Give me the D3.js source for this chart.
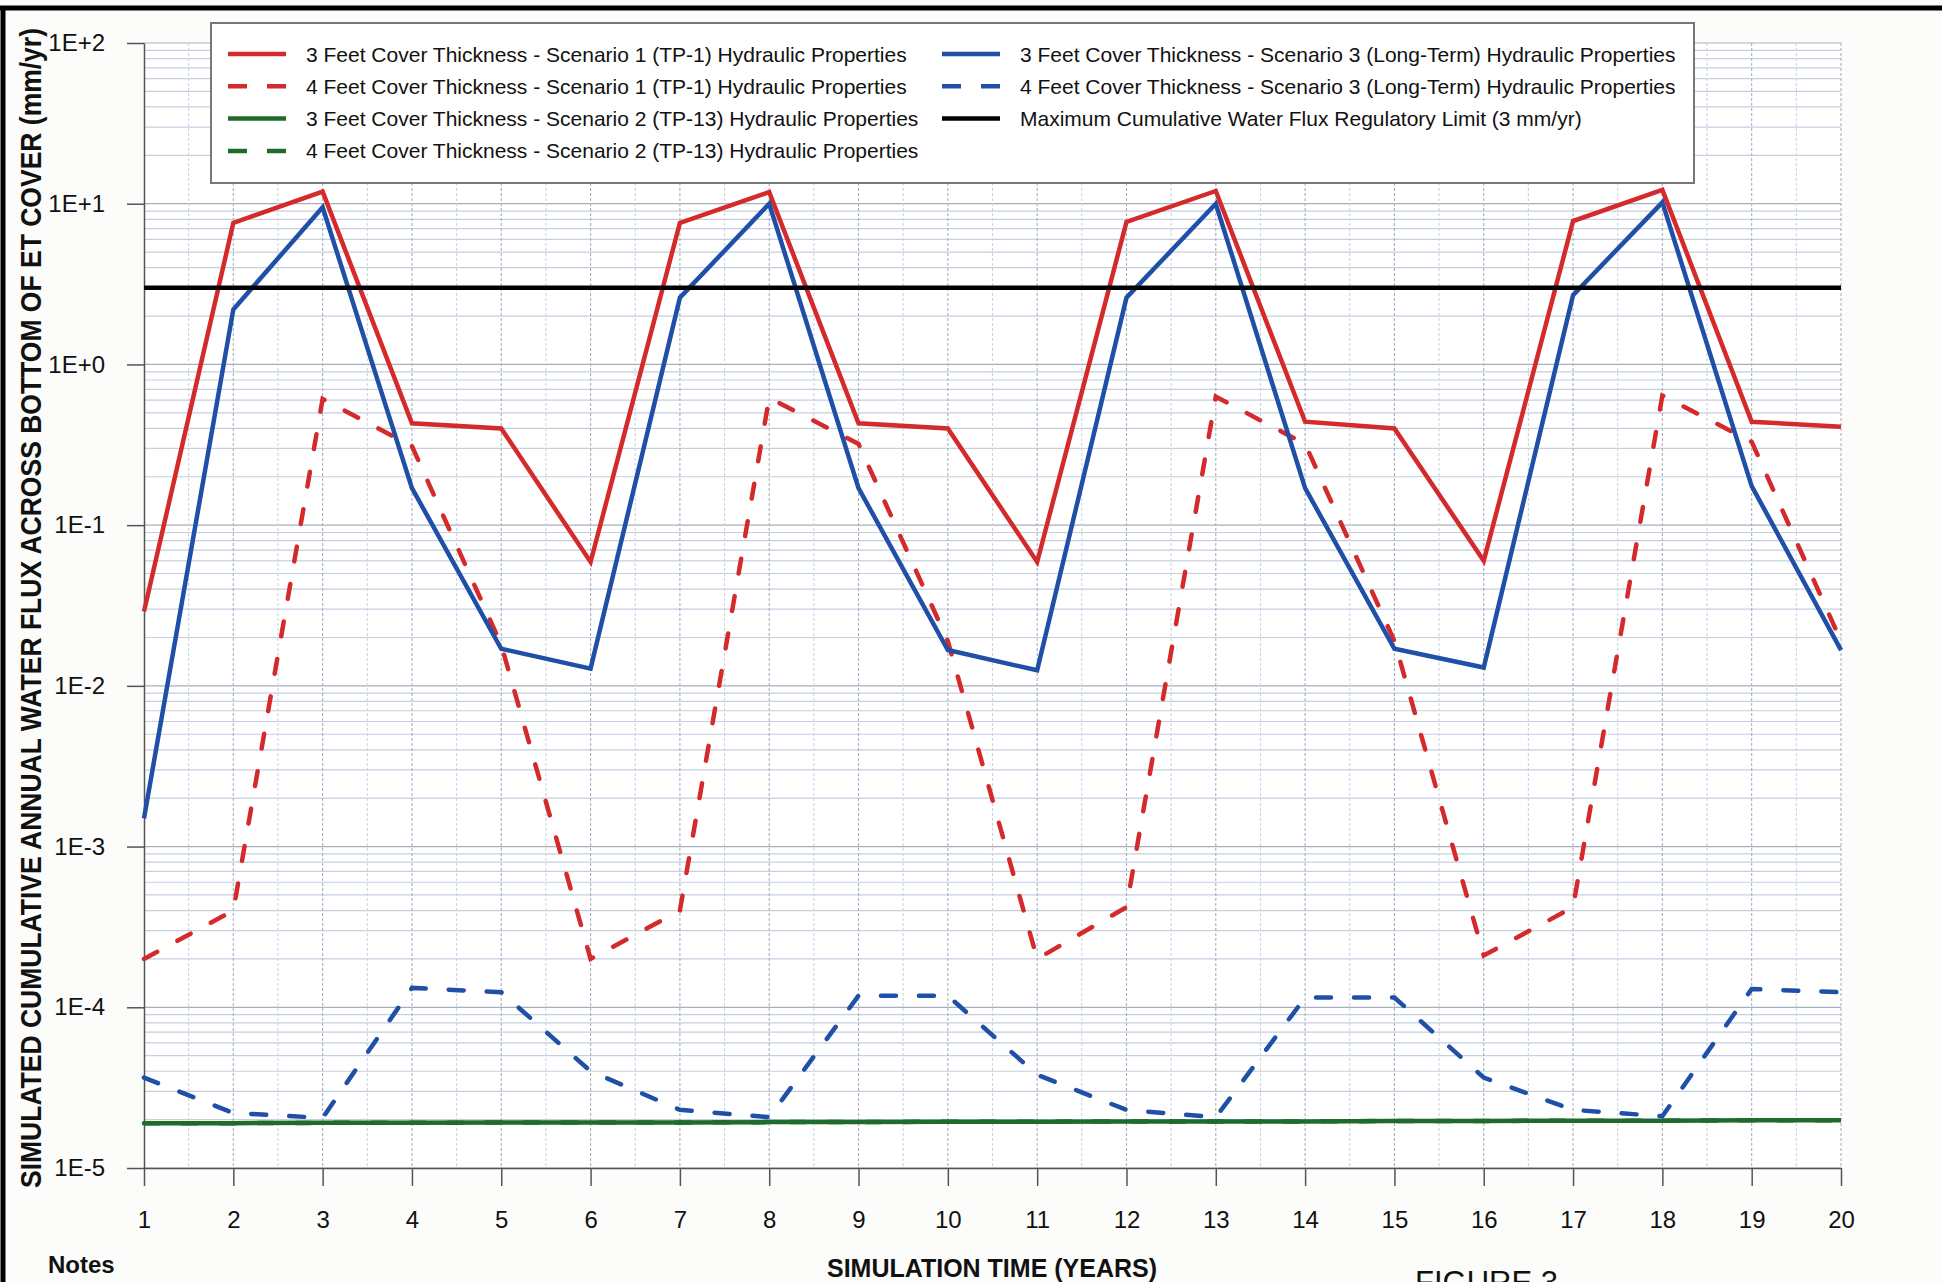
<!DOCTYPE html>
<html lang="en">

<head>
    <meta charset="utf-8">
    <title>Figure 3 - Cumulative Annual Water Flux</title>
    <style media="screen" type="text/css">
        body {
            margin: 0;
            background-color: #fcfcfa;
        }
        svg text {
            font-family: "Liberation Sans Narrow", "Liberation Sans", Arial, sans-serif;
            fill: #111;
        }
        .bold {
            font-family: "Liberation Sans", Arial, sans-serif;
            font-weight: bold;
        }
    </style>
</head>

<body>
    <svg id="chart"></svg>
    <script src="https://cdn.jsdelivr.net/npm/d3@7"></script>
    <script>
        // simulation years
        var years = [1, 2, 3, 4, 5, 6, 7, 8, 9, 10, 11, 12, 13, 14, 15, 16, 17, 18, 19, 20];

        // mm/yr
        var s1Feet3 = [0.029, 7.6, 11.9, 0.43, 0.40, 0.059, 7.6, 11.8, 0.43, 0.40,
                       0.059, 7.7, 12.0, 0.44, 0.40, 0.060, 7.8, 12.2, 0.44, 0.41];
        var s1Feet4 = [2.0e-4, 4.0e-4, 0.61, 0.31, 0.018, 2.0e-4, 4.0e-4, 0.62, 0.32, 0.019,
                       2.0e-4, 4.2e-4, 0.63, 0.32, 0.019, 2.1e-4, 4.2e-4, 0.64, 0.33, 0.019];
        var s2Feet3 = [1.90e-5, 1.90e-5, 1.91e-5, 1.91e-5, 1.92e-5, 1.92e-5, 1.92e-5, 1.93e-5, 1.93e-5, 1.94e-5,
                       1.94e-5, 1.95e-5, 1.95e-5, 1.95e-5, 1.96e-5, 1.96e-5, 1.97e-5, 1.97e-5, 1.98e-5, 1.98e-5];
        var s2Feet4 = [1.90e-5, 1.90e-5, 1.91e-5, 1.91e-5, 1.92e-5, 1.92e-5, 1.92e-5, 1.93e-5, 1.93e-5, 1.94e-5,
                       1.94e-5, 1.95e-5, 1.95e-5, 1.95e-5, 1.96e-5, 1.96e-5, 1.97e-5, 1.97e-5, 1.98e-5, 1.98e-5];
        var s3Feet3 = [0.0015, 2.2, 9.5, 0.17, 0.017, 0.0128, 2.6, 10.0, 0.17, 0.0167,
                       0.0125, 2.6, 10.0, 0.17, 0.017, 0.013, 2.7, 10.2, 0.175, 0.0167];
        var s3Feet4 = [3.65e-5, 2.2e-5, 2.05e-5, 1.32e-4, 1.24e-4, 4.0e-5, 2.3e-5, 2.07e-5, 1.18e-4, 1.18e-4,
                       3.8e-5, 2.3e-5, 2.07e-5, 1.15e-4, 1.15e-4, 3.65e-5, 2.3e-5, 2.1e-5, 1.3e-4, 1.24e-4];
        var fluxLimit = 3;

        var yTickValues = [1e-5, 1e-4, 1e-3, 1e-2, 1e-1, 1e0, 1e1, 1e2];
        var yTickLabels = ["1E-5", "1E-4", "1E-3", "1E-2", "1E-1", "1E+0", "1E+1", "1E+2"];

        var seriesNames = [
            "3 Feet Cover Thickness - Scenario 1 (TP-1) Hydraulic Properties",
            "4 Feet Cover Thickness - Scenario 1 (TP-1) Hydraulic Properties",
            "3 Feet Cover Thickness - Scenario 2 (TP-13) Hydraulic Properties",
            "4 Feet Cover Thickness - Scenario 2 (TP-13) Hydraulic Properties",
            "3 Feet Cover Thickness - Scenario 3 (Long-Term) Hydraulic Properties",
            "4 Feet Cover Thickness - Scenario 3 (Long-Term) Hydraulic Properties",
            "Maximum Cumulative Water Flux Regulatory Limit (3 mm/yr)"
        ];

        var w = 1942;
        var h = 1282;
        var red = "#d42a2b";
        var blue = "#1f4fa6";
        var green = "#1f6b2c";
        var dash = "15,23";

        var series = [
            {name: seriesNames[0], values: s1Feet3, color: red, dashed: false},
            {name: seriesNames[1], values: s1Feet4, color: red, dashed: true},
            {name: seriesNames[2], values: s2Feet3, color: green, dashed: false},
            {name: seriesNames[3], values: s2Feet4, color: green, dashed: true},
            {name: seriesNames[4], values: s3Feet3, color: blue, dashed: false},
            {name: seriesNames[5], values: s3Feet4, color: blue, dashed: true}
        ];

        var svg = d3.select("#chart")
            .attr("width", w)
            .attr("height", h);

        var x = d3.scaleLinear().domain([1, 20]).range([144, 1841]);
        var y = d3.scaleLog().domain([1e-5, 1e2]).range([1168, 43]);

        // plot background
        svg.append("rect")
            .attr("x", x(1))
            .attr("y", y(1e2))
            .attr("width", x(20) - x(1))
            .attr("height", y(1e-5) - y(1e2))
            .attr("fill", "#fff");

        // grid - minor log lines
        var grid = svg.append("g");
        grid.selectAll("line.hminor")
            .data(y.ticks())
            .enter()
            .append("line")
            .attr("x1", x(1))
            .attr("x2", x(20))
            .attr("y1", function(d) { return y(d); })
            .attr("y2", function(d) { return y(d); })
            .attr("stroke", function(d) {
                return yTickValues.indexOf(d) >= 0 ? "#a7afbf" : "#c6cfe0";
            })
            .attr("stroke-width", 1.2);

        // grid - vertical lines at every half year
        grid.selectAll("line.v")
            .data(d3.range(1.5, 20.5, 0.5))
            .enter()
            .append("line")
            .attr("x1", function(d) { return x(d); })
            .attr("x2", function(d) { return x(d); })
            .attr("y1", y(1e2))
            .attr("y2", y(1e-5))
            .attr("stroke", function(d) {
                return d % 1 === 0 ? "#a8afbd" : "#cdd3de";
            })
            .attr("stroke-width", 1.1)
            .attr("stroke-dasharray", "3,2");

        // axes
        var yAxis = d3.axisLeft(y)
            .tickValues(yTickValues)
            .tickFormat(function(d, i) { return yTickLabels[i]; })
            .tickSize(17)
            .tickSizeOuter(0)
            .tickPadding(22);
        var gy = svg.append("g")
            .attr("transform", "translate(" + x(1) + ",0)")
            .call(yAxis);
        gy.selectAll("text").attr("font-size", "24px").attr("font-family", null);
        gy.selectAll("line, path").attr("stroke", "#555").attr("stroke-width", 1.5);

        var xAxis = d3.axisBottom(x)
            .tickValues(years)
            .tickFormat(d3.format("d"))
            .tickSize(18)
            .tickSizeOuter(0)
            .tickPadding(25);
        var gx = svg.append("g")
            .attr("transform", "translate(0," + y(1e-5) + ")")
            .call(xAxis);
        gx.selectAll("text").attr("font-size", "24px").attr("font-family", null);
        gx.selectAll("line, path").attr("stroke", "#555").attr("stroke-width", 1.5);

        // data lines
        var line = d3.line()
            .x(function(d, i) { return x(years[i]); })
            .y(function(d) { return y(d); });

        svg.selectAll("path.series")
            .data(series)
            .enter()
            .append("path")
            .attr("class", "series")
            .attr("d", function(d) { return line(d.values); })
            .attr("fill", "none")
            .attr("stroke", function(d) { return d.color; })
            .attr("stroke-width", 4.5)
            .attr("stroke-linecap", function(d) { return d.dashed ? "round" : "butt"; })
            .attr("stroke-dasharray", function(d) { return d.dashed ? dash : null; });

        // regulatory limit
        svg.append("line")
            .attr("x1", x(years[0]))
            .attr("x2", x(years[years.length - 1]))
            .attr("y1", y(fluxLimit))
            .attr("y2", y(fluxLimit))
            .attr("stroke", "#000")
            .attr("stroke-width", 4.5);

        // legend
        var legendItems = [
            {s: series[0], col: 0, row: 0},
            {s: series[1], col: 0, row: 1},
            {s: series[2], col: 0, row: 2},
            {s: series[3], col: 0, row: 3},
            {s: series[4], col: 1, row: 0},
            {s: series[5], col: 1, row: 1},
            {s: {name: seriesNames[6], color: "#000", dashed: false}, col: 1, row: 2}
        ];
        var legend = svg.append("g");
        legend.append("rect")
            .attr("x", 211)
            .attr("y", 23)
            .attr("width", 1483)
            .attr("height", 160)
            .attr("fill", "#fff")
            .attr("stroke", "#777")
            .attr("stroke-width", 2);

        var colX = [228, 942];
        var entry = legend.selectAll("g.entry")
            .data(legendItems)
            .enter()
            .append("g")
            .attr("transform", function(d) {
                return "translate(" + colX[d.col] + "," + (54 + d.row * 32.3) + ")";
            });
        entry.append("line")
            .attr("x1", 0)
            .attr("x2", 58)
            .attr("stroke", function(d) { return d.s.color; })
            .attr("stroke-width", 4.5)
            .attr("stroke-dasharray", function(d) { return d.s.dashed ? "19,20" : null; });
        entry.append("text")
            .attr("x", 78)
            .attr("dy", "0.36em")
            .attr("font-size", "21px")
            .text(function(d) { return d.s.name; });

        // axis titles and page text
        svg.append("text")
            .attr("class", "bold")
            .attr("transform", "translate(41,608) rotate(-90) scale(1,1.12)")
            .attr("text-anchor", "middle")
            .attr("font-size", "26px")
            .attr("textLength", 1160)
            .attr("lengthAdjust", "spacingAndGlyphs")
            .text("SIMULATED CUMULATIVE ANNUAL WATER FLUX ACROSS BOTTOM OF ET COVER (mm/yr)");

        svg.append("text")
            .attr("class", "bold")
            .attr("x", 992)
            .attr("y", 1277)
            .attr("text-anchor", "middle")
            .attr("font-size", "25px")
            .text("SIMULATION TIME (YEARS)");

        svg.append("text")
            .attr("class", "bold")
            .attr("x", 48)
            .attr("y", 1273)
            .attr("font-size", "24px")
            .text("Notes");

        svg.append("text")
            .attr("x", 1415)
            .attr("y", 1293)
            .attr("font-size", "31px")
            .attr("font-family", "Liberation Sans, Arial, sans-serif")
            .text("FIGURE 3");

        // page frame
        svg.append("line")
            .attr("x1", 0).attr("x2", w)
            .attr("y1", 8).attr("y2", 8)
            .attr("stroke", "#000").attr("stroke-width", 5);
        svg.append("line")
            .attr("x1", 3).attr("x2", 3)
            .attr("y1", 6).attr("y2", h)
            .attr("stroke", "#000").attr("stroke-width", 5);
    </script>
</body>

</html>
